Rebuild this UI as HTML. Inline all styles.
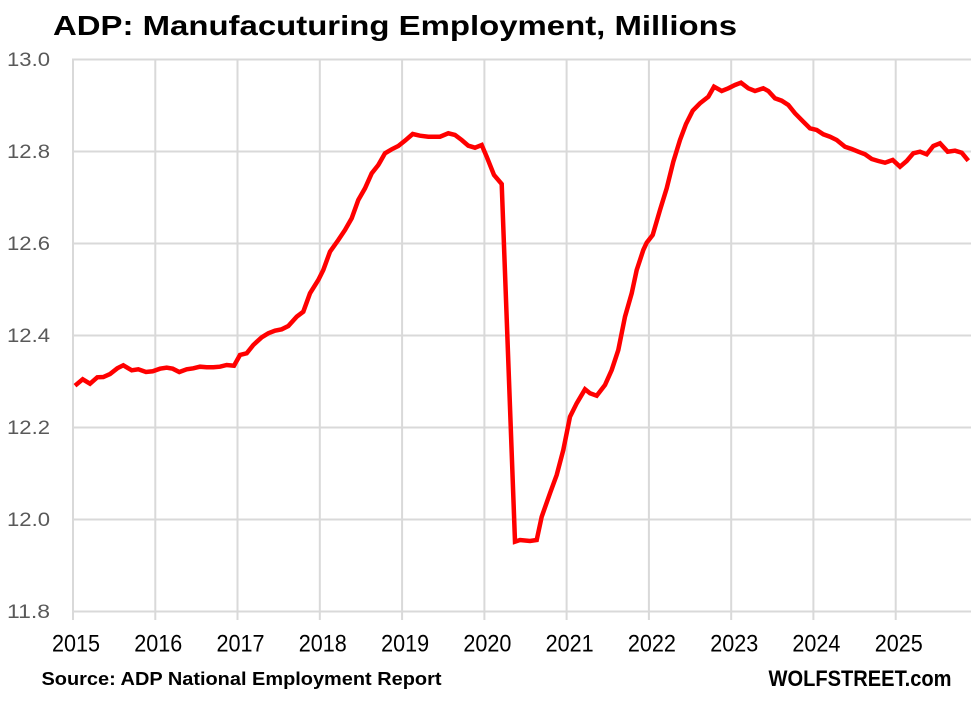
<!DOCTYPE html>
<html>
<head>
<meta charset="utf-8">
<style>
  html,body{margin:0;padding:0;background:#fff;}
  svg{display:block;}
  text{font-family:"Liberation Sans",Arial,sans-serif;}
</style>
</head>
<body>
<svg width="980" height="701" viewBox="0 0 980 701" xmlns="http://www.w3.org/2000/svg">
  <rect width="980" height="701" fill="#fff"/>
  <!-- title -->
  <text x="53" y="35" font-size="28" font-weight="bold" fill="#000" textLength="684" lengthAdjust="spacingAndGlyphs">ADP: Manufacuturing Employment, Millions</text>

  <!-- horizontal gridlines -->
  <g stroke="#d9d9d9" stroke-width="2" fill="none">
    <line x1="73" y1="59.5" x2="971" y2="59.5"/>
    <line x1="73" y1="151.5" x2="971" y2="151.5"/>
    <line x1="73" y1="243.5" x2="971" y2="243.5"/>
    <line x1="73" y1="335.5" x2="971" y2="335.5"/>
    <line x1="73" y1="427.5" x2="971" y2="427.5"/>
    <line x1="73" y1="519.5" x2="971" y2="519.5"/>
    <line x1="73" y1="611.5" x2="971" y2="611.5"/>
    <!-- vertical gridlines -->
    <line x1="73" y1="58.5" x2="73" y2="620"/>
    <line x1="155.3" y1="58.5" x2="155.3" y2="620"/>
    <line x1="237.5" y1="58.5" x2="237.5" y2="620"/>
    <line x1="319.8" y1="58.5" x2="319.8" y2="620"/>
    <line x1="402.1" y1="58.5" x2="402.1" y2="620"/>
    <line x1="484.4" y1="58.5" x2="484.4" y2="620"/>
    <line x1="566.6" y1="58.5" x2="566.6" y2="620"/>
    <line x1="648.9" y1="58.5" x2="648.9" y2="620"/>
    <line x1="731.2" y1="58.5" x2="731.2" y2="620"/>
    <line x1="813.4" y1="58.5" x2="813.4" y2="620"/>
    <line x1="895.7" y1="58.5" x2="895.7" y2="620"/>
  </g>

  <!-- y labels -->
  <g font-size="19.5" fill="#595959" text-anchor="end">
    <text x="50" y="66" textLength="43" lengthAdjust="spacingAndGlyphs">13.0</text>
    <text x="50" y="158" textLength="43" lengthAdjust="spacingAndGlyphs">12.8</text>
    <text x="50" y="250" textLength="43" lengthAdjust="spacingAndGlyphs">12.6</text>
    <text x="50" y="342" textLength="43" lengthAdjust="spacingAndGlyphs">12.4</text>
    <text x="50" y="434" textLength="43" lengthAdjust="spacingAndGlyphs">12.2</text>
    <text x="50" y="526" textLength="43" lengthAdjust="spacingAndGlyphs">12.0</text>
    <text x="50" y="618" textLength="43" lengthAdjust="spacingAndGlyphs">11.8</text>
  </g>

  <!-- x labels -->
  <g font-size="24" fill="#000" text-anchor="middle">
    <text x="76" y="651.5" textLength="48" lengthAdjust="spacingAndGlyphs">2015</text>
    <text x="158.3" y="651.5" textLength="48" lengthAdjust="spacingAndGlyphs">2016</text>
    <text x="240.5" y="651.5" textLength="48" lengthAdjust="spacingAndGlyphs">2017</text>
    <text x="322.8" y="651.5" textLength="48" lengthAdjust="spacingAndGlyphs">2018</text>
    <text x="405.1" y="651.5" textLength="48" lengthAdjust="spacingAndGlyphs">2019</text>
    <text x="487.4" y="651.5" textLength="48" lengthAdjust="spacingAndGlyphs">2020</text>
    <text x="569.6" y="651.5" textLength="48" lengthAdjust="spacingAndGlyphs">2021</text>
    <text x="651.9" y="651.5" textLength="48" lengthAdjust="spacingAndGlyphs">2022</text>
    <text x="734.2" y="651.5" textLength="48" lengthAdjust="spacingAndGlyphs">2023</text>
    <text x="816.4" y="651.5" textLength="48" lengthAdjust="spacingAndGlyphs">2024</text>
    <text x="898.7" y="651.5" textLength="48" lengthAdjust="spacingAndGlyphs">2025</text>
  </g>

  <!-- series -->
  <polyline fill="none" stroke="#ff0000" stroke-width="4.5" stroke-linejoin="miter" stroke-miterlimit="10" stroke-linecap="butt"
    points="75,385.7 82.7,379.3 90,383.7 97.3,377.3 103.3,377 110,374 117.3,368.3 123.3,365.3 131.7,370.3 138.3,369.3 146,372 152.7,371.3 160,368.7 166.7,367.7 172.7,368.7 179.3,372 186.7,369.3 193.3,368.3 200,366.7 206.7,367.3 213.3,367.3 220,366.7 226.7,365 234,365.7 240,355 246.7,353.3 253.3,345 261.7,337.3 268.3,333.3 275,330.7 281.7,329.3 288.3,326 296.7,316.7 303.3,311.7 310,293.3 318.3,280 323.3,270 330,251.7 338.3,240 345,230 351.7,218.3 358.3,200 365,188.3 371.7,173.3 378.3,165 385,153.3 391.7,149.3 398.3,146 405,140.7 412.7,134 420,135.7 428.3,136.7 440,136.7 448.3,133.3 455,135 461.7,140 468.3,145.7 475,147.7 481.7,145 486.7,156.7 494,175 501.7,184 515,541.7 520,540 530,541 536.7,540 541.7,516.7 550,493.3 556.7,475 563.3,450 570,416.7 576.7,403.3 585,389.3 590,393.3 596.7,395.7 605,385 611.7,370 618.3,350 625,316.7 631.7,293.3 636.7,270 643.3,250 646.7,242.7 652.7,235 660,210 666.7,188.3 673.3,161.7 680,140 686,124 692.7,110.7 700,103.3 708.3,96.7 714,86.7 721.7,91 728.3,88.3 735,85 741,82.7 748.3,88.3 755,91 763.3,88.3 768.3,91 775,98.3 781.7,100.7 788.3,105 795,113.3 803.3,121.7 810,128.3 816.7,130 823.3,134.3 830,136.7 836.7,140 845,146.7 851.7,149 858.3,151.7 865,154.3 871.7,159 878.3,161 885,162.7 892.7,160 900,166.7 906.7,161 913.3,153.3 920,151.7 926.7,154.3 933.3,146 940,143.3 947.7,151.7 955,150.7 961.7,152.7 968.3,160.7"/>

  <!-- footer -->
  <text x="41.5" y="685" font-size="18.6" font-weight="bold" fill="#000" textLength="400" lengthAdjust="spacingAndGlyphs">Source: ADP National Employment Report</text>
  <text x="768.5" y="686" font-size="22" font-weight="bold" fill="#000" textLength="183" lengthAdjust="spacingAndGlyphs">WOLFSTREET.com</text>
</svg>
</body>
</html>
